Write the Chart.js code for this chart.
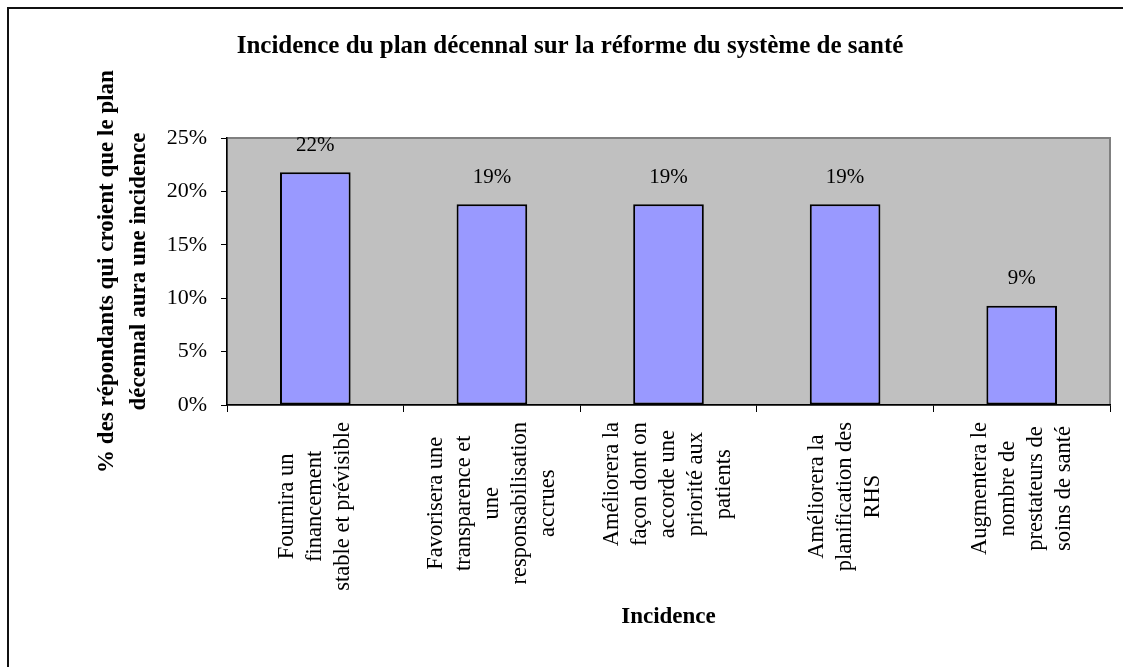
<!DOCTYPE html>
<html>
<head>
<meta charset="utf-8">
<script src="https://cdn.jsdelivr.net/npm/chart.js@4/dist/chart.umd.min.js"></script>
<style>
  html, body { margin: 0; padding: 0; background: #fff; }
  #wrap { width: 1123px; height: 667px; }
</style>
</head>
<body>
<div id="wrap"><canvas id="incidenceChart" width="1123" height="667"></canvas></div>
<script>
// categories (one entry per bar, one string per line as printed)
const categories = [
    ["Fournira un", "financement", "stable et prévisible"],
    ["Favorisera une", "transparence et", "une", "responsabilisation", "accrues"],
    ["Améliorera la", "façon dont on", "accorde une", "priorité aux", "patients"],
    ["Améliorera la", "planification des", "RHS"],
    ["Augmentera le", "nombre de", "prestateurs de", "soins de santé"],
];
const pourcentages = [21.8, 18.8, 18.8, 18.8, 9.3];
const yTicks = [0, 5, 10, 15, 20, 25];

const titre = "Incidence du plan décennal sur la réforme du système de santé";
const titreY = ["% des répondants qui croient que le plan", "décennal aura une incidence"];
const titreX = "Incidence";

const FONT = "'Liberation Serif', 'Times New Roman', serif";

// fond gris de la zone de tracé + cadre du graphique
const fondPlugin = {
    id: "fond",
    beforeDraw(chart) {
        const { ctx, chartArea: a } = chart;
        ctx.save();
        ctx.strokeStyle = "#111";
        ctx.lineWidth = 2;
        ctx.beginPath();
        ctx.moveTo(8, 667);
        ctx.lineTo(8, 8);
        ctx.lineTo(1123, 8);
        ctx.stroke();
        ctx.fillStyle = "#c0c0c0";
        ctx.fillRect(a.left, a.top, a.right - a.left, a.bottom - a.top);
        ctx.strokeStyle = "#808080";
        ctx.lineWidth = 2;
        ctx.strokeRect(a.left, a.top, a.right - a.left, a.bottom - a.top);
        ctx.restore();
    },
};

// étiquettes des valeurs au-dessus des barres
const valeursPlugin = {
    id: "valeurs",
    afterDatasetsDraw(chart) {
        const { ctx } = chart;
        const meta = chart.getDatasetMeta(0);
        ctx.save();
        ctx.font = "21px " + FONT;
        ctx.fillStyle = "#000";
        ctx.textAlign = "center";
        ctx.textBaseline = "middle";
        meta.data.forEach((bar, i) => {
            ctx.fillText(Math.round(pourcentages[i]) + "%", bar.x, bar.y - 27);
        });
        ctx.restore();
    },
};

// étiquettes de catégories verticales, lignes centrées
const categoriesPlugin = {
    id: "categoriesVerticales",
    afterDraw(chart) {
        const { ctx } = chart;
        const xScale = chart.scales.x;
        ctx.save();
        ctx.font = "22.5px " + FONT;
        ctx.fillStyle = "#000";
        ctx.textAlign = "center";
        ctx.textBaseline = "middle";
        const interligne = 28;
        categories.forEach((lignes, i) => {
            const x = xScale.getPixelForValue(i);
            const maxW = Math.max(...lignes.map((l) => ctx.measureText(l).width));
            const centreY = xScale.top + 17 + maxW / 2;
            ctx.save();
            ctx.translate(x, centreY);
            ctx.rotate(-Math.PI / 2);
            lignes.forEach((l, j) => {
                ctx.fillText(l, 0, (j - (lignes.length - 1) / 2) * interligne);
            });
            ctx.restore();
        });
        ctx.restore();
    },
};

new Chart(document.getElementById("incidenceChart"), {
    type: "bar",
    data: {
        labels: categories.map((c) => c.join(" ")),
        datasets: [
            {
                data: pourcentages,
                backgroundColor: "#9999ff",
                borderColor: "#000",
                borderWidth: 2,
                borderSkipped: false,
                barPercentage: 0.8,
                categoryPercentage: 0.5,
            },
        ],
    },
    options: {
        responsive: false,
        devicePixelRatio: 1,
        animation: false,
        layout: { padding: { top: 0, left: 30, right: 13, bottom: 0 } },
        plugins: {
            legend: { display: false },
            tooltip: { enabled: false },
            title: {
                display: true,
                text: titre,
                color: "#000",
                font: { family: FONT, size: 25, weight: "bold", lineHeight: 1.2 },
                padding: { top: 32, bottom: 76 },
            },
        },
        scales: {
            x: {
                grid: {
                    display: true,
                    drawOnChartArea: false,
                    drawTicks: true,
                    tickLength: 7,
                    color: "#000",
                    lineWidth: 1,
                    offset: true,
                },
                border: { color: "#000", width: 1.5 },
                ticks: { display: false },
                title: {
                    display: true,
                    text: titreX,
                    color: "#000",
                    font: { family: FONT, size: 23, weight: "bold", lineHeight: 1.2 },
                    padding: { top: 0, bottom: 36 },
                },
                afterFit(scale) {
                    scale.height = 262;
                },
            },
            y: {
                min: 0,
                max: 25,
                afterBuildTicks(scale) {
                    scale.ticks = yTicks.map((v) => ({ value: v }));
                },
                grid: {
                    display: true,
                    drawOnChartArea: false,
                    drawTicks: true,
                    tickLength: 6,
                    color: "#000",
                },
                border: { color: "#000", width: 1.5 },
                ticks: {
                    color: "#000",
                    padding: 14,
                    font: { family: FONT, size: 22 },
                    callback: (v) => v + "%",
                },
                title: {
                    display: true,
                    text: titreY,
                    color: "#000",
                    font: { family: FONT, size: 23, weight: "bold", lineHeight: 1.35 },
                    padding: { top: 62, bottom: 0 },
                },
                afterFit(scale) {
                    scale.width = 197;
                },
            },
        },
    },
    plugins: [fondPlugin, valeursPlugin, categoriesPlugin],
});
</script>
</body>
</html>
